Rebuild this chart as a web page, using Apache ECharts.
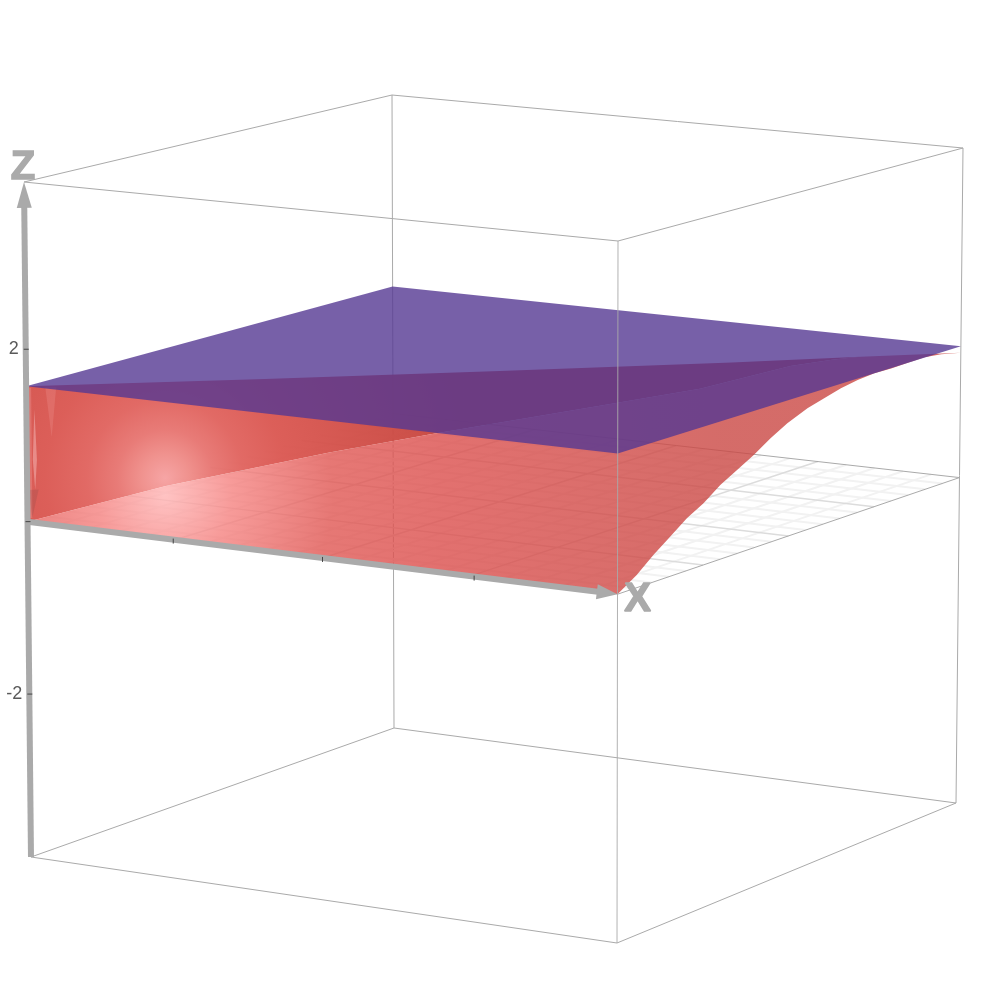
<!DOCTYPE html>
<html>
<head>
<meta charset="utf-8">
<title>surface</title>
<script src="https://cdn.jsdelivr.net/npm/echarts@6/dist/echarts.min.js"></script>
<style>
  html,body{margin:0;padding:0;background:#fff;}
  #main{width:1000px;height:1000px;}
</style>
</head>
<body>
<div id="main"></div>
<script>
// values, in plot units (x and y run 0..1 across the box)
var zMin = -3.89;
var zMax = 3.94;
var xTicks = [0.247, 0.5, 0.757];
var zTicks = [2, 0, -2];
var zTickLabels = ['2', '', '-2'];
var gridMinor = [0.05,0.1,0.15,0.2,0.3,0.35,0.4,0.45,0.55,0.6,0.65,0.7,0.8,0.85,0.9,0.95];
var gridMajor = [0.25,0.5,0.75];
var planeZ = 1.57;

// red surface, edge at x = 1
var edgeY = [0,0.0561,0.1047,0.1535,0.2023,0.2509,0.2997,0.3485,0.3971,0.4459,0.4947,0.5532,0.6018,0.6506,0.6994,0.748,0.7968,0.8456,0.8942,0.943,1];
var edgeZ = [0,0.142,0.303,0.446,0.592,0.7,0.845,0.954,1.065,1.196,1.306,1.407,1.461,1.517,1.553,1.571,1.566,1.571,1.573,1.547,1.493];
// red surface, fold line and crest, both over the diagonal x = y
var foldR = [0,0.1456,0.3187,0.4326,0.608,0.716,0.814,0.861,0.89];
var foldZ = [0,0.354,0.666,0.839,1.074,1.219,1.437,1.49,1.507];
var crestR = [0,0.25,0.5,0.75,0.89,1];
var crestZ = [1.57,1.555,1.537,1.513,1.507,1.493];

// view: where the 8 box corners land on the page
var view = {
  bottom: {left:[31,857], front:[617,943], back:[394,728], right:[956,803]},
  top:    {left:[24,182], front:[618,241], back:[392,95],  right:[963,148]}
};

function project(p){
  var x = p[0], y = p[1], s = (p[2]-zMin)/(zMax-zMin);
  function face(c, i){
    return c.left[i]*(1-x)*(1-y) + c.front[i]*x*(1-y) + c.back[i]*(1-x)*y + c.right[i]*x*y;
  }
  return [
    face(view.bottom,0)*(1-s) + face(view.top,0)*s,
    face(view.bottom,1)*(1-s) + face(view.top,1)*s
  ];
}

var GRAY = '#aaaaaa';
var series = [];

function polySeries(name, pts, style){
  series.push({
    name: name, type:'custom', silent:true, clip:false, data:[[0,0]],
    renderItem:function(params, api){
      return {
        type:'polygon',
        shape:{points: pts.map(function(q){ return api.coord(project(q)); })},
        style: typeof style === 'function' ? style(api) : style
      };
    }
  });
}

function lineSeries(name, segs, color, width){
  series.push({
    name: name, type:'custom', silent:true, clip:false, data:segs,
    renderItem:function(params, api){
      var s = segs[params.dataIndex];
      var a = api.coord(project(s[0])), b = api.coord(project(s[1]));
      return {
        type:'line',
        shape:{x1:a[0],y1:a[1],x2:b[0],y2:b[1]},
        style:{stroke:color, lineWidth:width}
      };
    }
  });
}

function glow(stops, cx, cy, r){
  return function(api){
    var c = api.coord([cx, cy]);
    return {fill:new echarts.graphic.RadialGradient(c[0], c[1], r, stops, true)};
  };
}

function diag(r, z){ return [r, r, z]; }

// box, back part
var L=[0,0], F=[1,0], B=[0,1], R=[1,1];
function at(c,z){ return [c[0],c[1],z]; }
lineSeries('box', [
  [at(L,zMax),at(F,zMax)],[at(F,zMax),at(R,zMax)],[at(R,zMax),at(B,zMax)],[at(B,zMax),at(L,zMax)],
  [at(L,zMin),at(F,zMin)],[at(F,zMin),at(R,zMin)],[at(R,zMin),at(B,zMin)],[at(B,zMin),at(L,zMin)],
  [at(B,zMin),at(B,zMax)],[at(R,zMin),at(R,zMax)]
], GRAY, 1);

// z = 0 plane
function gridSegs(list){
  var out = [];
  list.forEach(function(t){
    out.push([[t,0,0],[t,1,0]]);
    out.push([[0,t,0],[1,t,0]]);
  });
  return out;
}
lineSeries('gridMinor', gridSegs(gridMinor), '#f2f2f2', 2);
lineSeries('gridMajor', gridSegs(gridMajor), '#dcdcdc', 1.5);
lineSeries('planeEdge', [[[1,0,0],[1,1,0]],[[1,1,0],[0,1,0]]], GRAY, 1);

// red wall seen from below
var wallPts = [[0,0,0]];
crestR.forEach(function(r,i){ if(r <= foldR[foldR.length-1]) wallPts.push(diag(r,crestZ[i])); });
for(var i=foldR.length-2;i>0;i--){ wallPts.push(diag(foldR[i],foldZ[i])); }
polySeries('wall', wallPts, glow([
  {offset:0, color:'rgba(246,160,160,0.95)'},
  {offset:0.08, color:'rgba(239,140,136,0.95)'},
  {offset:0.16, color:'rgba(231,116,112,0.95)'},
  {offset:0.26, color:'rgba(224,98,93,0.95)'},
  {offset:0.4, color:'rgba(218,86,80,0.95)'},
  {offset:1, color:'rgba(196,66,58,0.95)'}
], 165, 478, 300));

// streaks in the wall, next to the z axis
polySeries('streakStrip', [diag(0.001,0.04),diag(0.0052,0.04),diag(0.0052,1.55),diag(0.001,1.55)], {fill:'rgba(255,200,200,0.2)'});
polySeries('streakBright', [diag(0.0084,1.3),diag(0.0105,0.715),diag(0.0084,0.367),diag(0.0062,0.715)], {fill:'rgba(255,215,215,0.38)'});
polySeries('streakDark', [diag(0.002,0.367),diag(0.012,0.367),diag(0.005,0.04)], {fill:'rgba(120,70,70,0.2)'});
polySeries('streakTop', [diag(0.02,1.55),diag(0.0314,1.55),diag(0.0262,0.97)], {fill:'rgba(255,190,190,0.16)'});

// red surface, top side
var topPts = [[0,0,0]];
edgeY.forEach(function(y,k){ topPts.push([1,y,edgeZ[k]]); });
for(var j=foldR.length-1;j>0;j--){ topPts.push(diag(foldR[j],foldZ[j])); }
polySeries('surface', topPts, glow([
  {offset:0, color:'rgba(255,180,180,0.8)'},
  {offset:0.12, color:'rgba(245,130,128,0.8)'},
  {offset:0.3, color:'rgba(224,86,82,0.8)'},
  {offset:0.5, color:'rgba(219,77,75,0.8)'},
  {offset:1, color:'rgba(202,71,67,0.8)'}
], 165, 495, 560));

// blue plane
polySeries('plane', [at(L,planeZ),at(F,planeZ),at(R,planeZ),at(B,planeZ)], {fill:'rgba(85,56,146,0.8)'});

// box, front edge over the surfaces
lineSeries('boxFront', [[at(F,zMin),at(F,zMax)]], 'rgba(170,170,170,0.9)', 1);

// axes
lineSeries('xAxisLine', [[[0,0,0],[0.97,0,0]]], GRAY, 6);
lineSeries('zAxisLine', [[[0,0,zMin],[0,0,zMax-0.25]]], GRAY, 6);

function arrowSeries(name, tip, tail){
  series.push({
    name:name, type:'custom', silent:true, clip:false, data:[[0,0]],
    renderItem:function(params, api){
      var a = api.coord(project(tip)), b = api.coord(project(tail));
      var dx = a[0]-b[0], dy = a[1]-b[1], n = Math.sqrt(dx*dx+dy*dy);
      var ox = -dy/n*7.5, oy = dx/n*7.5;
      return {
        type:'polygon',
        shape:{points:[a,[b[0]+ox,b[1]+oy],[b[0]-ox,b[1]-oy]]},
        style:{fill:GRAY}
      };
    }
  });
}
arrowSeries('xArrow', [1,0,0], [0.965,0,0]);
arrowSeries('zArrow', [0,0,zMax], [0,0,zMax-0.3]);

// tick marks and labels
series.push({
  name:'xTicks', type:'custom', silent:true, clip:false, data:xTicks,
  renderItem:function(params, api){
    var c = api.coord(project([api.value(0),0,0]));
    return {type:'line', shape:{x1:c[0],y1:c[1]-1,x2:c[0],y2:c[1]+4}, style:{stroke:'#444444',lineWidth:1}};
  }
});
series.push({
  name:'zTicks', type:'custom', silent:true, clip:false, data:zTicks,
  renderItem:function(params, api){
    var c = api.coord(project([0,0,api.value(0)]));
    return {
      type:'group',
      children:[
        {type:'line', shape:{x1:c[0]-2,y1:c[1],x2:c[0]+3,y2:c[1]}, style:{stroke:'#444444',lineWidth:1}},
        {type:'text', x:c[0]-7, y:c[1], style:{
          text:zTickLabels[params.dataIndex], fill:'#5a5a5a',
          font:'18px "Liberation Sans", sans-serif', align:'right', verticalAlign:'middle'
        }}
      ]
    };
  }
});

function axisName(name, p, dx, dy){
  series.push({
    name:'name'+name, type:'custom', silent:true, clip:false, data:[[0,0]],
    renderItem:function(params, api){
      var c = api.coord(project(p));
      return {type:'text', x:c[0]+dx, y:c[1]+dy, style:{
        text:name, fill:GRAY, stroke:GRAY, lineWidth:1.5,
        font:'bold 40px "Liberation Sans", sans-serif',
        align:'center', verticalAlign:'middle'
      }};
    }
  });
}
axisName('X', [1,0,0], 20, 6);
axisName('Z', [0,0,zMax], -1, -14);

var myChart = echarts.init(document.getElementById('main'));
myChart.setOption({
  animation:false,
  backgroundColor:'#ffffff',
  grid:{left:0,right:0,top:0,bottom:0},
  xAxis:{type:'value',min:0,max:1000,show:false},
  yAxis:{type:'value',min:0,max:1000,inverse:true,show:false},
  series:series
});
</script>
</body>
</html>
